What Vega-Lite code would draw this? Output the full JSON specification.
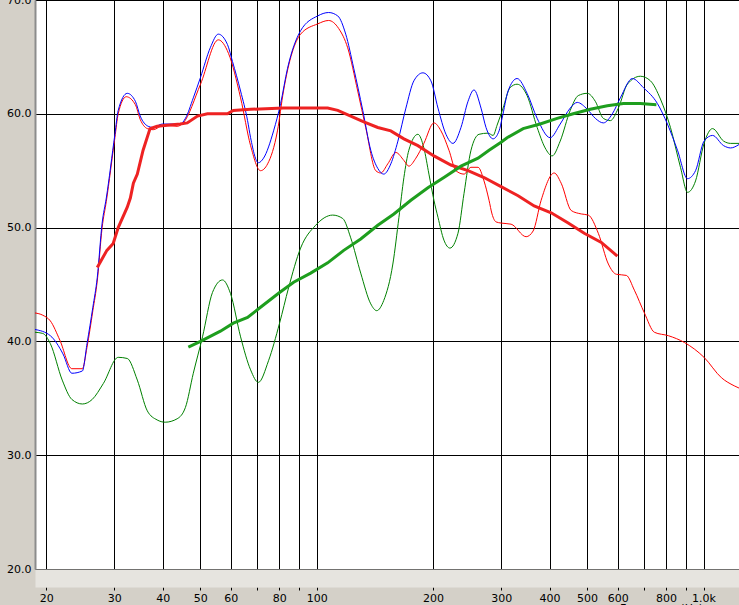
{
  "$schema": "https://vega.github.io/schema/vega-lite/v6.json",
  "width": 704,
  "height": 569,
  "autosize": {"type": "none"},
  "padding": {"left": 35, "top": 0, "right": 0, "bottom": 36},
  "background": "#d4d0c8",
  "view": {"fill": "white", "stroke": null},
  "datasets": {
    "blue": [
      {"freq": 18.71, "spl": 41.05}, {"freq": 20.5, "spl": 40.5}, {"freq": 22.1, "spl": 38.9}, {"freq": 23.3, "spl": 37.2},
      {"freq": 24.8, "spl": 37.4}, {"freq": 25.5, "spl": 39.8}, {"freq": 26.4, "spl": 43.0}, {"freq": 27.1, "spl": 45.6},
      {"freq": 27.9, "spl": 50.4}, {"freq": 28.6, "spl": 52.6}, {"freq": 30.1, "spl": 58.2}, {"freq": 30.7, "spl": 60.3},
      {"freq": 32.4, "spl": 61.8}, {"freq": 34.0, "spl": 61.1}, {"freq": 35.0, "spl": 59.8}, {"freq": 36.7, "spl": 58.9},
      {"freq": 37.8, "spl": 58.8}, {"freq": 39.9, "spl": 59.1}, {"freq": 44.4, "spl": 59.1}, {"freq": 45.8, "spl": 59.6},
      {"freq": 48.0, "spl": 61.4}, {"freq": 50.1, "spl": 63.2}, {"freq": 53.1, "spl": 65.8}, {"freq": 55.7, "spl": 67.0},
      {"freq": 58.8, "spl": 66.1}, {"freq": 60.6, "spl": 64.6}, {"freq": 63.6, "spl": 62.0}, {"freq": 66.3, "spl": 59.4},
      {"freq": 67.5, "spl": 57.9}, {"freq": 70.7, "spl": 55.7}, {"freq": 72.9, "spl": 56.1}, {"freq": 77.4, "spl": 58.5},
      {"freq": 80.7, "spl": 60.9}, {"freq": 84.1, "spl": 64.0}, {"freq": 90.9, "spl": 67.3}, {"freq": 100.6, "spl": 68.6},
      {"freq": 107.4, "spl": 68.9}, {"freq": 113.4, "spl": 68.6}, {"freq": 118.9, "spl": 67.0}, {"freq": 124.7, "spl": 64.0},
      {"freq": 131.6, "spl": 60.3}, {"freq": 138.0, "spl": 56.8}, {"freq": 143.9, "spl": 55.2}, {"freq": 149.1, "spl": 54.7},
      {"freq": 155.5, "spl": 55.6}, {"freq": 162.2, "spl": 57.6}, {"freq": 170.1, "spl": 60.5}, {"freq": 178.4, "spl": 62.9},
      {"freq": 188.2, "spl": 63.6}, {"freq": 197.4, "spl": 62.9}, {"freq": 205.9, "spl": 60.5}, {"freq": 215.9, "spl": 58.2},
      {"freq": 225.1, "spl": 57.4}, {"freq": 236.1, "spl": 58.8}, {"freq": 246.2, "spl": 61.1}, {"freq": 255.1, "spl": 62.1},
      {"freq": 266.0, "spl": 60.5}, {"freq": 274.0, "spl": 58.8}, {"freq": 285.8, "spl": 57.8}, {"freq": 296.2, "spl": 58.5},
      {"freq": 301.5, "spl": 59.6}, {"freq": 312.5, "spl": 62.0}, {"freq": 329.7, "spl": 63.1}, {"freq": 349.9, "spl": 61.8},
      {"freq": 371.5, "spl": 59.6}, {"freq": 401.4, "spl": 57.9}, {"freq": 426.1, "spl": 59.1}, {"freq": 452.3, "spl": 60.5},
      {"freq": 471.6, "spl": 61.0}, {"freq": 500.6, "spl": 60.4}, {"freq": 525.1, "spl": 59.6}, {"freq": 550.8, "spl": 59.2},
      {"freq": 581.2, "spl": 60.0}, {"freq": 609.5, "spl": 61.4}, {"freq": 654.8, "spl": 63.1}, {"freq": 699.1, "spl": 62.3},
      {"freq": 760.0, "spl": 60.9}, {"freq": 806.7, "spl": 59.1}, {"freq": 856.4, "spl": 56.8}, {"freq": 909.1, "spl": 54.3},
      {"freq": 953.5, "spl": 55.0}, {"freq": 1003, "spl": 57.6}, {"freq": 1055, "spl": 58.1}, {"freq": 1127, "spl": 57.2},
      {"freq": 1175, "spl": 57.0}, {"freq": 1235, "spl": 57.3}
    ],
    "red": [
      {"freq": 18.71, "spl": 42.5}, {"freq": 19.6, "spl": 42.3}, {"freq": 20.5, "spl": 41.8}, {"freq": 21.7, "spl": 40.1},
      {"freq": 23.3, "spl": 37.6}, {"freq": 24.8, "spl": 37.6}, {"freq": 25.5, "spl": 39.5}, {"freq": 26.4, "spl": 42.7},
      {"freq": 27.1, "spl": 45.3}, {"freq": 27.9, "spl": 50.0}, {"freq": 28.6, "spl": 52.3}, {"freq": 30.1, "spl": 57.9},
      {"freq": 30.7, "spl": 60.0}, {"freq": 32.2, "spl": 61.5}, {"freq": 34.0, "spl": 60.8}, {"freq": 35.0, "spl": 59.5},
      {"freq": 36.5, "spl": 58.7}, {"freq": 37.8, "spl": 58.6}, {"freq": 40.2, "spl": 59.0}, {"freq": 43.6, "spl": 58.9},
      {"freq": 45.2, "spl": 59.2}, {"freq": 50.1, "spl": 62.6}, {"freq": 55.7, "spl": 66.5}, {"freq": 59.2, "spl": 65.3},
      {"freq": 63.6, "spl": 61.4}, {"freq": 67.5, "spl": 57.2}, {"freq": 71.6, "spl": 55.0}, {"freq": 74.7, "spl": 55.6},
      {"freq": 79.2, "spl": 58.5}, {"freq": 82.1, "spl": 62.0}, {"freq": 90.9, "spl": 67.0}, {"freq": 100.6, "spl": 67.9},
      {"freq": 107.4, "spl": 68.2}, {"freq": 114.0, "spl": 67.5}, {"freq": 120.3, "spl": 65.8}, {"freq": 127.7, "spl": 62.0},
      {"freq": 133.9, "spl": 58.8}, {"freq": 142.2, "spl": 55.0}, {"freq": 146.5, "spl": 54.8}, {"freq": 152.7, "spl": 55.6},
      {"freq": 160.3, "spl": 56.6}, {"freq": 168.1, "spl": 55.9}, {"freq": 173.1, "spl": 55.4}, {"freq": 180.5, "spl": 56.1},
      {"freq": 189.3, "spl": 57.4}, {"freq": 201.0, "spl": 59.2}, {"freq": 209.6, "spl": 58.5}, {"freq": 219.8, "spl": 56.8},
      {"freq": 229.1, "spl": 55.0}, {"freq": 240.4, "spl": 54.7}, {"freq": 250.6, "spl": 55.3}, {"freq": 261.3, "spl": 55.3},
      {"freq": 270.8, "spl": 54.1}, {"freq": 279.0, "spl": 52.4}, {"freq": 284.0, "spl": 51.2}, {"freq": 290.9, "spl": 50.5},
      {"freq": 299.7, "spl": 50.4}, {"freq": 318.1, "spl": 50.3}, {"freq": 347.9, "spl": 49.2}, {"freq": 362.7, "spl": 49.7},
      {"freq": 380.4, "spl": 52.4}, {"freq": 411.1, "spl": 54.8}, {"freq": 428.6, "spl": 53.9}, {"freq": 455.0, "spl": 51.5},
      {"freq": 483.0, "spl": 51.2}, {"freq": 503.6, "spl": 51.1}, {"freq": 534.6, "spl": 49.5}, {"freq": 567.5, "spl": 46.8},
      {"freq": 595.2, "spl": 45.9}, {"freq": 631.7, "spl": 45.8}, {"freq": 662.6, "spl": 44.5}, {"freq": 703.3, "spl": 42.5},
      {"freq": 746.5, "spl": 40.8}, {"freq": 811.5, "spl": 40.5}, {"freq": 892.9, "spl": 39.9}, {"freq": 1003, "spl": 38.6},
      {"freq": 1113, "spl": 36.8}, {"freq": 1200, "spl": 36.1}, {"freq": 1235, "spl": 35.9}
    ],
    "green": [
      {"freq": 18.71, "spl": 40.8}, {"freq": 19.6, "spl": 40.7}, {"freq": 20.5, "spl": 39.8}, {"freq": 22.0, "spl": 36.6},
      {"freq": 23.3, "spl": 34.9}, {"freq": 24.8, "spl": 34.5}, {"freq": 26.3, "spl": 34.9}, {"freq": 28.1, "spl": 36.3},
      {"freq": 30.7, "spl": 38.6}, {"freq": 32.4, "spl": 38.5}, {"freq": 34.4, "spl": 36.6}, {"freq": 36.5, "spl": 33.9},
      {"freq": 38.7, "spl": 33.1}, {"freq": 40.6, "spl": 32.9}, {"freq": 43.6, "spl": 33.2}, {"freq": 45.8, "spl": 34.2},
      {"freq": 48.0, "spl": 37.2}, {"freq": 50.7, "spl": 40.4}, {"freq": 53.8, "spl": 44.3}, {"freq": 57.1, "spl": 45.4},
      {"freq": 59.9, "spl": 44.2}, {"freq": 63.6, "spl": 40.4}, {"freq": 67.5, "spl": 37.5}, {"freq": 70.7, "spl": 36.4},
      {"freq": 75.1, "spl": 38.3}, {"freq": 80.2, "spl": 41.6}, {"freq": 84.6, "spl": 44.7}, {"freq": 90.9, "spl": 48.2},
      {"freq": 99.4, "spl": 50.2}, {"freq": 110.0, "spl": 51.1}, {"freq": 116.8, "spl": 50.8}, {"freq": 122.5, "spl": 49.1},
      {"freq": 130.0, "spl": 46.0}, {"freq": 138.0, "spl": 43.3}, {"freq": 143.0, "spl": 42.7}, {"freq": 149.1, "spl": 43.6},
      {"freq": 157.4, "spl": 46.8}, {"freq": 163.2, "spl": 50.9}, {"freq": 168.1, "spl": 54.4}, {"freq": 173.1, "spl": 56.8},
      {"freq": 182.7, "spl": 58.2}, {"freq": 189.3, "spl": 57.0}, {"freq": 195.1, "spl": 54.7}, {"freq": 201.0, "spl": 52.4},
      {"freq": 205.9, "spl": 50.9}, {"freq": 213.3, "spl": 48.9}, {"freq": 221.1, "spl": 48.2}, {"freq": 231.9, "spl": 49.5},
      {"freq": 240.4, "spl": 53.0}, {"freq": 250.6, "spl": 56.8}, {"freq": 262.9, "spl": 58.2}, {"freq": 277.3, "spl": 58.3},
      {"freq": 285.8, "spl": 58.1}, {"freq": 292.7, "spl": 59.0}, {"freq": 303.3, "spl": 60.5}, {"freq": 316.2, "spl": 62.3},
      {"freq": 329.7, "spl": 62.6}, {"freq": 349.9, "spl": 61.6}, {"freq": 371.5, "spl": 58.8}, {"freq": 389.6, "spl": 57.0},
      {"freq": 406.2, "spl": 56.3}, {"freq": 426.1, "spl": 57.6}, {"freq": 452.3, "spl": 60.3}, {"freq": 474.5, "spl": 61.6},
      {"freq": 500.6, "spl": 61.8}, {"freq": 525.1, "spl": 61.1}, {"freq": 550.8, "spl": 59.6}, {"freq": 574.3, "spl": 59.4},
      {"freq": 602.3, "spl": 60.5}, {"freq": 635.5, "spl": 62.6}, {"freq": 686.7, "spl": 63.3}, {"freq": 728.9, "spl": 62.9},
      {"freq": 773.7, "spl": 61.3}, {"freq": 821.3, "spl": 58.8}, {"freq": 871.8, "spl": 55.3}, {"freq": 909.1, "spl": 53.1},
      {"freq": 953.5, "spl": 54.1}, {"freq": 1003, "spl": 57.4}, {"freq": 1055, "spl": 58.7}, {"freq": 1127, "spl": 57.6},
      {"freq": 1175, "spl": 57.4}, {"freq": 1235, "spl": 57.4}
    ],
    "redThick": [
      {"freq": 27.1, "spl": 46.5}, {"freq": 28.7, "spl": 48.0}, {"freq": 29.8, "spl": 48.6}, {"freq": 30.7, "spl": 50.0},
      {"freq": 32.4, "spl": 51.8}, {"freq": 33.0, "spl": 52.6}, {"freq": 33.6, "spl": 53.9}, {"freq": 34.4, "spl": 54.7},
      {"freq": 35.6, "spl": 56.8}, {"freq": 37.1, "spl": 58.7}, {"freq": 38.7, "spl": 58.9}, {"freq": 44.4, "spl": 59.1},
      {"freq": 46.3, "spl": 59.2}, {"freq": 49.2, "spl": 59.8}, {"freq": 52.2, "spl": 60.0}, {"freq": 58.8, "spl": 60.0},
      {"freq": 60.9, "spl": 60.3}, {"freq": 67.5, "spl": 60.4}, {"freq": 82.1, "spl": 60.5}, {"freq": 106.8, "spl": 60.5},
      {"freq": 113.4, "spl": 60.3}, {"freq": 122.5, "spl": 59.8}, {"freq": 132.4, "spl": 59.3}, {"freq": 143.9, "spl": 58.8},
      {"freq": 155.5, "spl": 58.5}, {"freq": 168.1, "spl": 57.8}, {"freq": 182.7, "spl": 57.2}, {"freq": 201.0, "spl": 56.3},
      {"freq": 222.4, "spl": 55.5}, {"freq": 246.2, "spl": 55.0}, {"freq": 270.8, "spl": 54.4}, {"freq": 299.7, "spl": 53.6},
      {"freq": 331.7, "spl": 52.8}, {"freq": 364.9, "spl": 51.9}, {"freq": 403.8, "spl": 51.3}, {"freq": 446.9, "spl": 50.4},
      {"freq": 491.7, "spl": 49.5}, {"freq": 544.3, "spl": 48.7}, {"freq": 598.7, "spl": 47.5}
    ],
    "greenThick": [
      {"freq": 46.6, "spl": 39.5}, {"freq": 50.1, "spl": 40.0}, {"freq": 56.4, "spl": 40.9}, {"freq": 60.9, "spl": 41.6},
      {"freq": 66.3, "spl": 42.1}, {"freq": 71.6, "spl": 43.0}, {"freq": 80.2, "spl": 44.3}, {"freq": 87.2, "spl": 45.2},
      {"freq": 96.5, "spl": 46.0}, {"freq": 106.8, "spl": 46.9}, {"freq": 117.5, "spl": 48.0}, {"freq": 130.0, "spl": 49.0},
      {"freq": 143.9, "spl": 50.2}, {"freq": 158.4, "spl": 51.2}, {"freq": 175.2, "spl": 52.4}, {"freq": 193.9, "spl": 53.5},
      {"freq": 213.3, "spl": 54.4}, {"freq": 236.1, "spl": 55.4}, {"freq": 261.3, "spl": 56.1}, {"freq": 279.0, "spl": 56.8},
      {"freq": 299.7, "spl": 57.5}, {"freq": 310.6, "spl": 57.9}, {"freq": 341.8, "spl": 58.7}, {"freq": 378.2, "spl": 59.1},
      {"freq": 418.5, "spl": 59.6}, {"freq": 460.5, "spl": 60.0}, {"freq": 509.7, "spl": 60.4}, {"freq": 564.1, "spl": 60.7},
      {"freq": 620.5, "spl": 60.9}, {"freq": 686.7, "spl": 60.9}, {"freq": 755.4, "spl": 60.8}
    ]
  },
  "resolve": {"axis": {"x": "independent", "y": "independent"}},
  "layer": [
    {
      "data": {"name": "green"},
      "mark": {"type": "line", "color": "#008000", "strokeWidth": 1, "interpolate": "monotone", "clip": true},
      "encoding": {
        "x": {
          "field": "freq", "type": "quantitative",
          "scale": {"type": "log", "domain": [18.71, 1235], "nice": false, "zero": false},
          "axis": {
            "orient": "bottom", "offset": 18,
            "values": [20, 30, 40, 50, 60, 70, 80, 90, 100, 200, 300, 400, 500, 600, 700, 800, 900, 1000],
            "labelExpr": "datum.value == 1000 ? '1.0k' : (indexof([70, 90, 700, 900], datum.value) >= 0 ? '' : '' + datum.value)",
            "grid": true, "gridColor": "#000000", "gridOpacity": 1, "gridWidth": 1,
            "domain": false, "ticks": true, "tickColor": "#000000", "tickSize": 3,
            "labelFont": "DejaVu Sans", "labelFontSize": 11, "labelColor": "#000000", "labelPadding": 2,
            "labelOverlap": false, "labelFlush": false,
            "title": "Frequency (Hz)", "titleFont": "DejaVu Sans", "titleFontSize": 11, "titleFontWeight": "normal",
            "titleColor": "#000000", "titleX": 626, "titleY": 15, "titleBaseline": "top", "titleAlign": "center"
          }
        },
        "y": {
          "field": "spl", "type": "quantitative",
          "scale": {"domain": [20, 70], "nice": false, "zero": false},
          "axis": {
            "orient": "left", "values": [20, 30, 40, 50, 60, 70], "format": ".1f",
            "grid": true, "gridColor": "#000000", "gridOpacity": 1, "gridWidth": 1,
            "domain": true, "domainColor": "#8c8c8c", "domainWidth": 2,
            "ticks": false, "labelPadding": 4,
            "labelFont": "DejaVu Sans", "labelFontSize": 11, "labelColor": "#000000",
            "labelOverlap": false, "labelFlush": false, "title": null
          }
        }
      }
    },
    {
      "data": {"name": "red"},
      "mark": {"type": "line", "color": "#ff0000", "strokeWidth": 1, "interpolate": "monotone", "clip": true},
      "encoding": {
        "x": {
          "field": "freq", "type": "quantitative",
          "axis": {"orient": "bottom", "offset": 9, "domain": true, "domainColor": "#e6e4df", "domainWidth": 18,
                   "ticks": false, "labels": false, "grid": false, "title": null}
        },
        "y": {"field": "spl", "type": "quantitative", "axis": null}
      }
    },
    {
      "data": {"name": "blue"},
      "mark": {"type": "line", "color": "#0000ff", "strokeWidth": 1, "interpolate": "monotone", "clip": true},
      "encoding": {
        "x": {"field": "freq", "type": "quantitative", "axis": null},
        "y": {"field": "spl", "type": "quantitative", "axis": null}
      }
    },
    {
      "data": {"name": "redThick"},
      "mark": {"type": "line", "color": "#ee2222", "strokeWidth": 3, "clip": true},
      "encoding": {
        "x": {"field": "freq", "type": "quantitative", "axis": null},
        "y": {"field": "spl", "type": "quantitative", "axis": null}
      }
    },
    {
      "data": {"name": "greenThick"},
      "mark": {"type": "line", "color": "#1e9e1e", "strokeWidth": 3, "clip": true},
      "encoding": {
        "x": {"field": "freq", "type": "quantitative", "axis": null},
        "y": {"field": "spl", "type": "quantitative", "axis": null}
      }
    }
  ]
}
